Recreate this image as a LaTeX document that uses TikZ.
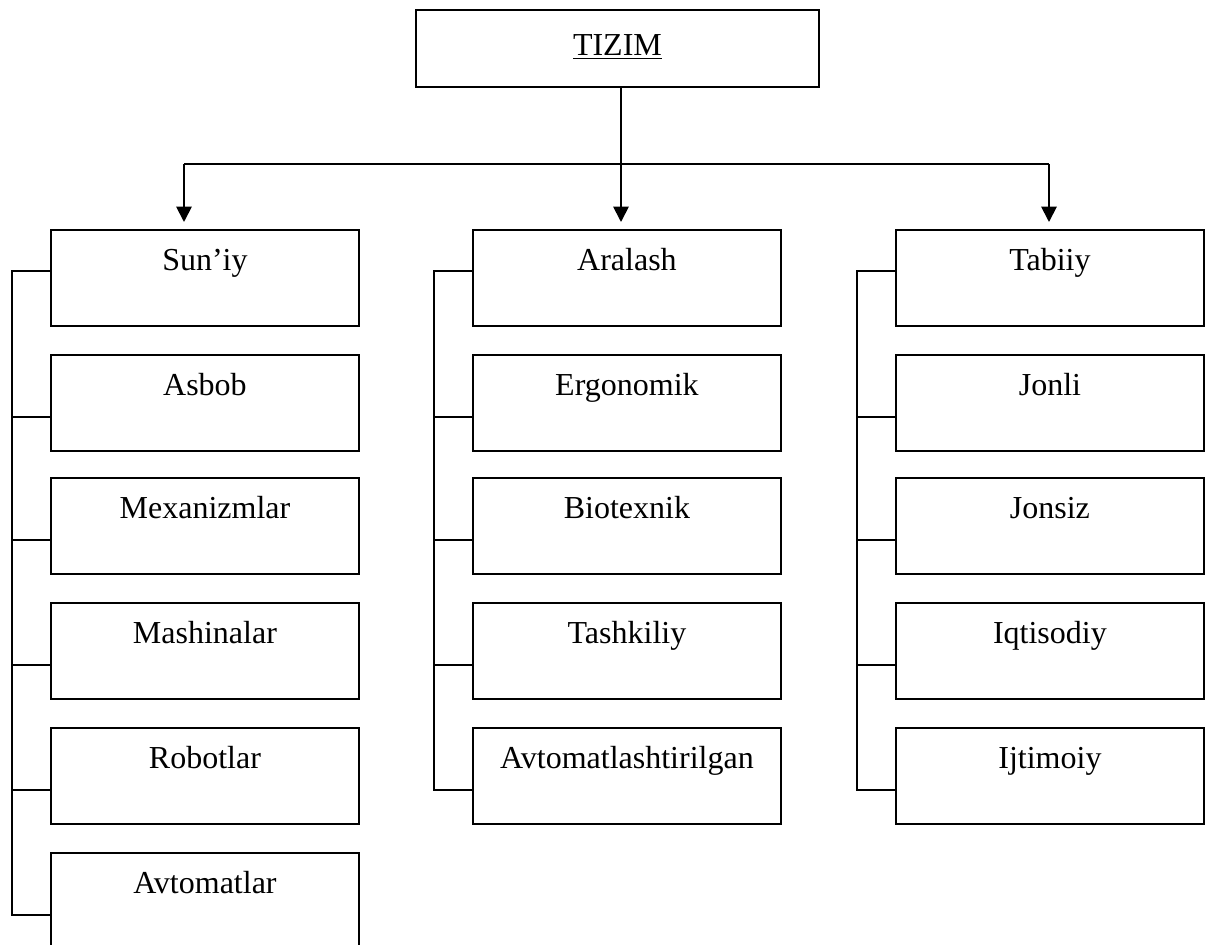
\documentclass[tikz,border=0pt]{standalone}
\usepackage{fontspec}
\setmainfont{Liberation Serif}
\usetikzlibrary{arrows.meta,calc}
\begin{document}
\begin{tikzpicture}[x=0.75pt,y=-0.75pt,
  line width=1.4pt,
  box/.style={draw, rectangle, anchor=north west, inner sep=0pt,
    minimum width=231pt, text height=30.75pt, text depth=41.25pt,
    font=\fontsize{24pt}{28pt}\selectfont},
  topbox/.style={draw, rectangle, anchor=north west, inner sep=0pt,
    minimum width=302.25pt, text height=34.5pt, text depth=23.25pt,
    font=\fontsize{24pt}{28pt}\selectfont},
  arr/.style={-{Triangle[length=11.5pt,width=11.5pt]}, shorten >=5.25pt}
]
\useasboundingbox (0,0) rectangle (1208,945);
% top
\node[topbox] (t) at (415,9) {\underline{TIZIM}};
% column 1
\node[box] (s1) at (50,229) {Sun’iy};
\node[box] (s2) at (50,354) {Asbob};
\node[box] (s3) at (50,477) {Mexanizmlar};
\node[box] (s4) at (50,602) {Mashinalar};
\node[box] (s5) at (50,727) {Robotlar};
\node[box] (s6) at (50,852) {Avtomatlar};
% column 2
\node[box] (a1) at (472,229) {Aralash};
\node[box] (a2) at (472,354) {Ergonomik};
\node[box] (a3) at (472,477) {Biotexnik};
\node[box] (a4) at (472,602) {Tashkiliy};
\node[box] (a5) at (472,727) {Avtomatlashtirilgan};
% column 3
\node[box] (b1) at (895,229) {Tabiiy};
\node[box] (b2) at (895,354) {Jonli};
\node[box] (b3) at (895,477) {Jonsiz};
\node[box] (b4) at (895,602) {Iqtisodiy};
\node[box] (b5) at (895,727) {Ijtimoiy};
% connectors
\coordinate (hl) at (184,164);
\coordinate (hm) at (621,164);
\coordinate (hr) at (1049,164);
\draw (t.south -| hm) -- (hm);
\draw (hl) -- (hr);
\draw[arr] (hl) -- (hl |- s1.north);
\draw[arr] (hm) -- (hm |- a1.north);
\draw[arr] (hr) -- (hr |- b1.north);
% brackets
\draw ($(s1.north west)+(0,42)$) -| ($(s6.north west)+(-38,63)$) -- ($(s6.north west)+(0,63)$);
\foreach \n in {s2,s3,s4,s5} \draw ($(\n.north west)+(0,63)$) -- ++(-38,0);
\draw ($(a1.north west)+(0,42)$) -| ($(a5.north west)+(-38,63)$) -- ($(a5.north west)+(0,63)$);
\foreach \n in {a2,a3,a4} \draw ($(\n.north west)+(0,63)$) -- ++(-38,0);
\draw ($(b1.north west)+(0,42)$) -| ($(b5.north west)+(-38,63)$) -- ($(b5.north west)+(0,63)$);
\foreach \n in {b2,b3,b4} \draw ($(\n.north west)+(0,63)$) -- ++(-38,0);
\end{tikzpicture}
\end{document}
